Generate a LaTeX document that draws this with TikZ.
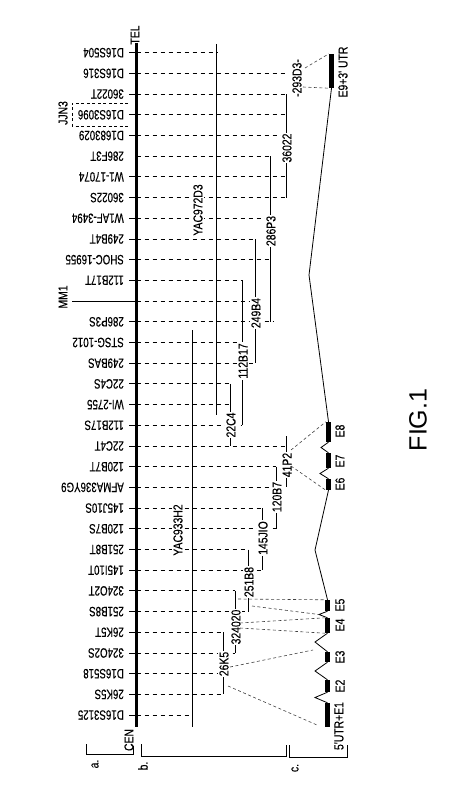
\documentclass[tikz,border=0pt]{standalone}
\usepackage{fontspec}
\setmainfont{Liberation Sans}
\newfontfamily\mkfont[FakeStretch=0.72,FakeBold=0.3]{Liberation Sans}
\newfontfamily\clfont[FakeStretch=0.8,FakeBold=0.3]{Liberation Sans}
\begin{document}
\begin{tikzpicture}[x=1pt,y=-1pt,
  mkr/.style={font=\mkfont\fontsize{13.5}{13.5}\selectfont,rotate=180,anchor=west,inner sep=0pt},
  clone/.style={font=\clfont\fontsize{13}{13}\selectfont,rotate=90,fill=white,inner sep=1pt},
  side/.style={font=\clfont\fontsize{13}{13}\selectfont,rotate=90,inner sep=0pt},
  rowln/.style={line width=.9pt,dash pattern=on 4.5pt off 3.5pt},
  cline/.style={line width=.8pt},
  probe/.style={line width=.6pt,dash pattern=on 3pt off 2.5pt,black!75},
  exon/.style={fill=black,inner sep=0pt,minimum width=5pt}]
\useasboundingbox (0,0) rectangle (474,810);
% ---- axis: row i sits at y = 52.7 + 20.7 i, axis at x = 136.5
\def\xax{136.5}
\draw[line width=2.6pt] (\xax,43) -- (\xax,727);
\node[side] (tel) at (135,35) {TEL};
\node[side] (cen) at (129,740) {CEN};
% ---- markers with tick and dashed row
\foreach \i/\lbl/\xe in {0/D16S504/217,1/D16S316/288,2/36022T/286,3/D16S3096/286,
    4/D1683029/286,6/W1-17074/286,7/36022S/286,8/W1AF-3494/270,9/249B4T/256,
    10/SHOC-16955/270,11/112B17T/242,13/286P3S/273,14/STSG-1012/242,15/249BAS/256,
    16/22C4S/230,17/WI-2755/230,18/112B17S/242,19/22C4T/286,20/120B7T/276,
    21/AFMA336YG9/272,22/145J10S/262,23/120B7S/276,24/251B8T/248,25/145I10T/262,
    26/324O2T/235,27/251B8S/247,28/26K5T/223,29/324O2S/235,30/D16S518/218,
    31/26K5S/223,32/D16S3125/192}{
  \pgfmathsetmacro\yy{52.7+20.7*\i}
  \node[mkr] (m\i) at (124,\yy) {\lbl};
  \draw[line width=.9pt] (129,\yy) -- (\xax,\yy);
  \draw[rowln] (\xax,\yy) -- (\xe,\yy);
}
% ---- row 5 has no tick, row 12 is MM1
\node[mkr] (m5) at (124,156.2) {286F3T};
\draw[rowln] (\xax,156.2) -- (270,156.2);
\draw[line width=.9pt] (72,301.1) -- (\xax,301.1);
\draw[rowln] (\xax,301.1) -- (256,301.1);
\node[side] (mm1) at (63,297) {MM1};
% ---- JJN3 box
\draw[line width=.6pt,dash pattern=on 3pt off 2.5pt] (128,103) -- (72,103) -- (72,126) -- (128,126);
\node[side] (jjn3) at (63,113) {JJN3};
% ---- YAC clones
\draw[cline] (216,44) -- (216,415);
\node[clone] (yac1) at (198,210) {YAC972D3};
\draw[cline] (192,330) -- (192,727);
\node[clone] (yac2) at (178,530) {YAC933H2};
% ---- small clones: line, then label on top
\foreach \nm/\txt/\cx/\ya/\yb/\ly in {36022/36022/286/94.1/197.6/148,
    286P3/286P3/270/156.2/321.8/231, 249B4/249B4/255/239/363.2/313,
    112B17/112B17/242/280.4/425.3/361, 22C4/22C4/230/383.9/446/425,
    41P2/41P2/286/436/487.4/465, 120B7/120B7/276/466.7/528.8/497,
    145J10/145JIO/262/508.1/570.2/538, 251B8/251B8/248/549.5/611.6/582,
    324O20/324020/235/590.9/653/627, 26K5/26K5/223/632.3/694.4/664}{
  \draw[cline] (\cx,\ya) -- (\cx,\yb);
  \node[clone] (c\nm) at (\cx+1,\ly) {\txt};
}
\node[clone] (c293D3) at (297,78) {-293D3-};
% ---- exons
\node[exon,minimum height=34pt] (E9) at (331.5,71) {};
\node[exon,minimum height=20pt] (E8) at (328.5,432) {};
\node[exon,minimum height=15pt] (E7) at (328.5,460.5) {};
\node[exon,minimum height=11pt] (E6) at (328.5,484.5) {};
\node[exon,minimum height=11pt] (E5) at (327.5,605.5) {};
\node[exon,minimum height=15pt] (E4) at (327.5,625.5) {};
\node[exon,minimum height=10pt] (E3) at (327.5,657) {};
\node[exon,minimum height=12pt] (E2) at (327.5,686) {};
\node[exon,minimum height=24pt] (E1) at (327.5,715) {};
\node[side] (l9) at (343,72) {E9+3' UTR};
\node[side] (l8) at (340,431) {E8};
\node[side] (l7) at (340,461) {E7};
\node[side] (l6) at (340,484) {E6};
\node[side] (l5) at (340,605) {E5};
\node[side] (l4) at (340,625) {E4};
\node[side] (l3) at (340,657) {E3};
\node[side] (l2) at (340,686) {E2};
\node[side] (l1) at (339,726) {5'UTR+E1};
% ---- introns
\coordinate (i98) at (309,275);
\coordinate (i87) at (321,447.5);
\coordinate (i76) at (320,473.5);
\coordinate (i65) at (315,550);
\coordinate (i54) at (319,614.5);
\coordinate (i43) at (315,642);
\coordinate (i32) at (315,671);
\coordinate (i21) at (315,697.5);
\foreach \a/\b/\c in {E9/98/E8,E8/87/E7,E7/76/E6,E6/65/E5,E5/54/E4,E4/43/E3,E3/32/E2,E2/21/E1}
  \draw[line width=.8pt] (\a.south) -- (i\b) -- (\c.north);
% ---- clone to exon
\draw[probe] (305,68) -- (E9.north west);
\draw[probe] (303,87) -- (E9.south west);
\draw[probe] (291,450) -- (E8.north west);
\draw[probe] (291,466) -- (E6.south west);
\draw[probe] (238,599) -- (E5.north west);
\draw[probe] (252,606) -- (i54);
\draw[probe] (240,623) -- (E4.north west);
\draw[probe] (240,628) -- (E4.south west);
\draw[probe] (230,667) -- (313,650);
\draw[probe] (228,686) -- (317,725);
% ---- brackets
\draw[line width=.8pt] (86,744) -- (86,754) -- (133,754) -- (133,746);
\draw[line width=.8pt] (141,744) -- (141,756) -- (286,756) -- (286,745);
\draw[line width=.8pt] (289,745) -- (289,757) -- (347,757) -- (347,745);
\node[side] (ba) at (95,764) {a.};
\node[side] (bb) at (143,766) {b.};
\node[side] (bc) at (295,768) {c.};
% ---- figure label
\node[rotate=90,font=\fontsize{25}{25}\selectfont] (fig) at (418,420) {FIG.1};
\end{tikzpicture}
\end{document}
